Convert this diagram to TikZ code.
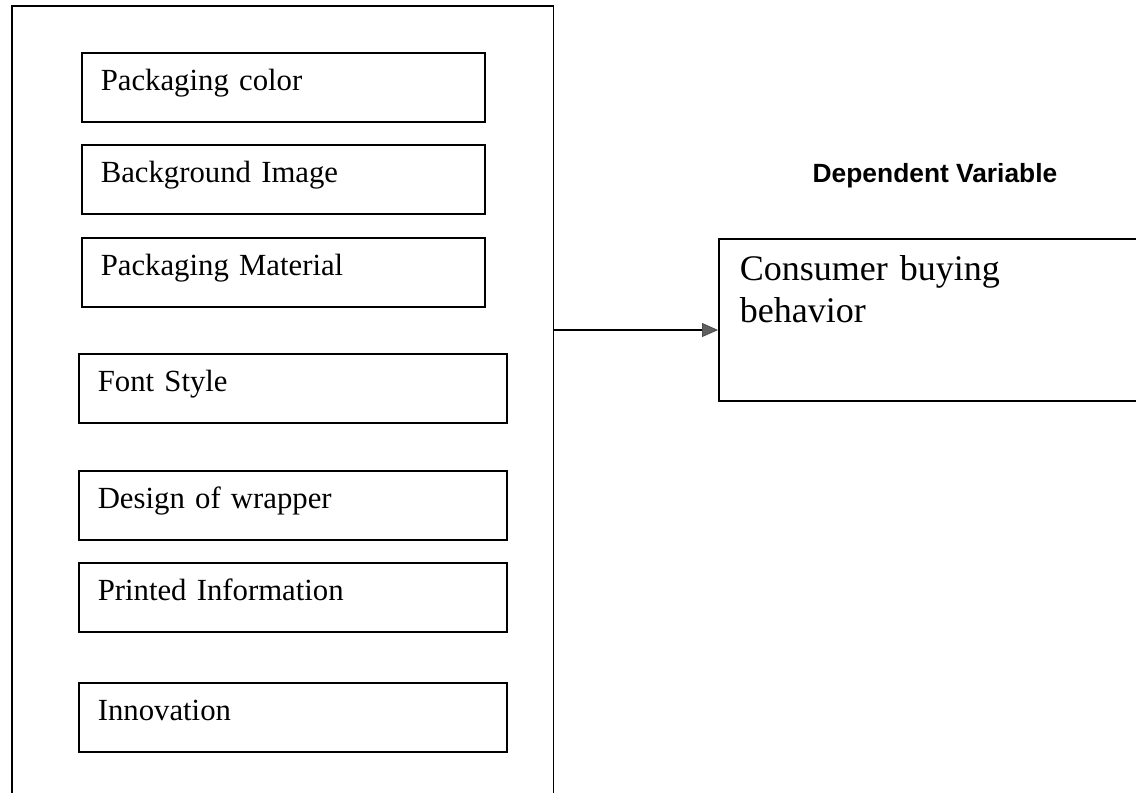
\documentclass[tikz,border=0pt]{standalone}
\usepackage{fontspec}
\setmainfont{Liberation Serif}
\newfontfamily\headfont{Liberation Sans}
\usetikzlibrary{positioning, arrows.meta}

\begin{document}
\begin{tikzpicture}[
  x=0.02cm, y=-0.02cm,
  line width=0.9pt,
  factor/.style={draw, anchor=north west, inner xsep=0.38cm, inner ysep=0pt,
    text width=#1, align=left, text height=0.76cm, text depth=0.62cm,
    font=\fontsize{17.5}{21}\selectfont},
  outcome/.style={draw, anchor=north west, inner xsep=0.42cm, inner ysep=0pt,
    text width=8cm, align=left, text height=0.84cm, text depth=2.4cm,
    font=\fontsize{20.5}{23.9}\selectfont},
  link/.style={line width=0.8pt,
    -{Triangle[length=0.32cm, width=0.28cm, fill=gray!75!black, color=gray!60!black, line width=0.5pt]}}]

  \useasboundingbox (0,0) rectangle (1136,792);
  \clip (0,0) rectangle (1136,792);

  % independent variables
  \node[draw, anchor=north west, inner sep=0pt, minimum width=10.84cm, minimum height=16cm] (group) at (11,5) {};
  \node[factor=7.3cm] (color) at (81,52) {Packaging color};
  \node[factor=7.3cm] (image) at (81,144) {Background Image};
  \node[factor=7.3cm] (material) at (81,237) {Packaging Material};
  \node[factor=7.8cm] (font) at (78,353) {Font Style};
  \node[factor=7.8cm] (design) at (78,470) {Design of wrapper};
  \node[factor=7.8cm] (printed) at (78,562) {Printed Information};
  \node[factor=7.8cm] (innov) at (78,682) {Innovation};

  % dependent variable
  \node[anchor=base, font=\headfont\bfseries\fontsize{15}{18}\selectfont] (dvtitle) at (935,182) {Dependent Variable};
  \node[outcome] (buying) at (718,238) {Consumer buying\\behavior};

  \coordinate (mid) at (630,330);
  \draw[link] (group.east |- mid) -- (buying.west |- mid);
\end{tikzpicture}
\end{document}
